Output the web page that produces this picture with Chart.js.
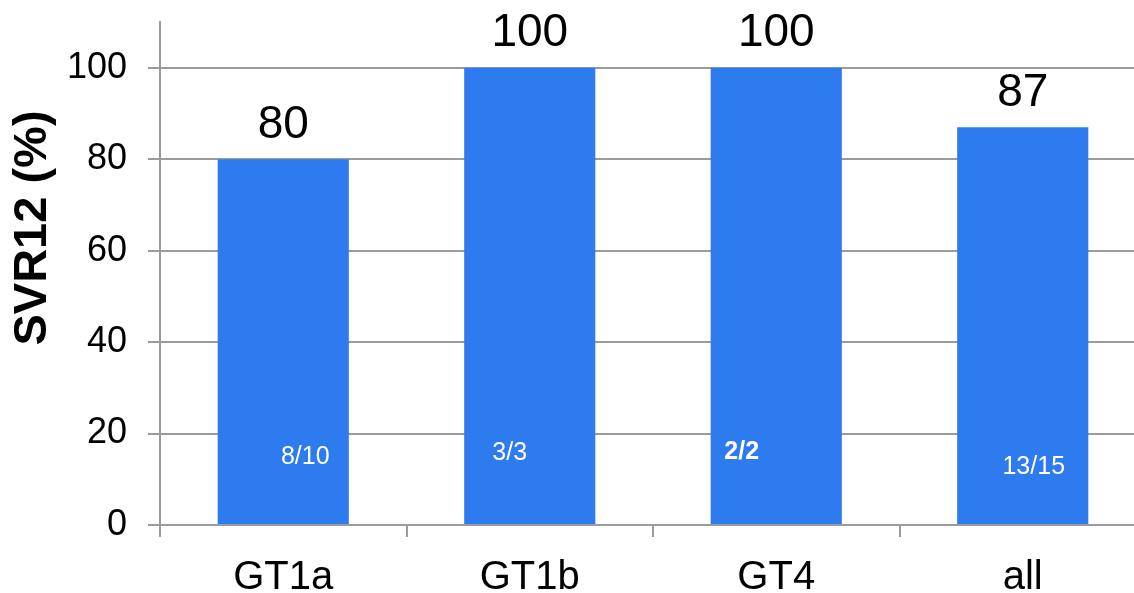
<!DOCTYPE html>
<html>
<head>
<meta charset="utf-8">
<script src="https://cdn.jsdelivr.net/npm/chart.js@4/dist/chart.umd.min.js"></script>
<style>
  html, body { margin: 0; padding: 0; background: #fff; overflow: hidden; }
  /* plot runs slightly past the right edge of the page */
  #wrap { width: 1146px; height: 593px; position: relative; }
</style>
</head>
<body>
<div id="wrap"><canvas id="c"></canvas></div>
<script>
// Genotype groups and SVR12 rates
const categories = ['GT1a', 'GT1b', 'GT4', 'all'];
const svr12 = [80, 100, 100, 87];
const responders = ['8/10', '3/3', '2/2', '13/15'];
const yTicks = [0, 20, 40, 60, 80, 100];

const FONT = "'Liberation Sans', Arial, Helvetica, sans-serif";
const BAR_COLOR = '#2e7bef';
const AXIS_GRAY = '#9b9b9b';

// small per-bar nudges for the responder count text (dx, px above the baseline, bold)
const countLabelNudge = [
  { dx: 22, up: 68, bold: false },
  { dx: -20, up: 72, bold: false },
  { dx: -34.5, up: 73, bold: true },
  { dx: 11, up: 58, bold: false }
];

const barLabels = {
  id: 'barLabels',
  afterDatasetsDraw(chart) {
    const ctx = chart.ctx;
    const meta = chart.getDatasetMeta(0);
    const yBase = chart.scales.y.getPixelForValue(0);
    ctx.save();
    meta.data.forEach((bar, i) => {
      // value above each bar
      ctx.fillStyle = '#000';
      ctx.font = `46px ${FONT}`;
      ctx.textAlign = 'center';
      ctx.textBaseline = 'alphabetic';
      ctx.fillText(String(svr12[i]), bar.x, bar.y - 21.5);
      // responder counts inside the bar
      const n = countLabelNudge[i];
      ctx.fillStyle = '#fff';
      ctx.font = `${n.bold ? 'bold ' : ''}25px ${FONT}`;
      ctx.textBaseline = 'middle';
      ctx.fillText(responders[i], bar.x + n.dx, yBase - n.up);
    });
    ctx.restore();
  }
};

const yTitle = {
  id: 'yTitle',
  afterDraw(chart) {
    const ctx = chart.ctx;
    ctx.save();
    ctx.translate(33, 228);
    ctx.rotate(-Math.PI / 2);
    ctx.fillStyle = '#000';
    ctx.font = `bold 47px ${FONT}`;
    ctx.textAlign = 'center';
    ctx.textBaseline = 'middle';
    ctx.fillText('SVR12 (%)', 0, 0);
    ctx.restore();
  }
};

new Chart(document.getElementById('c'), {
  type: 'bar',
  data: {
    labels: categories,
    datasets: [{
      data: svr12,
      backgroundColor: BAR_COLOR,
      borderWidth: 0,
      barPercentage: 0.532,
      categoryPercentage: 1.0
    }]
  },
  options: {
    responsive: true,
    maintainAspectRatio: false,
    animation: false,
    layout: { padding: { top: 22, right: 0, bottom: 0, left: 0 } },
    plugins: {
      legend: { display: false },
      tooltip: { enabled: false }
    },
    scales: {
      x: {
        offset: true,
        afterFit(s) { s.height = 68; s.paddingLeft = 0; s.paddingRight = 0; },
        grid: {
          offset: true,
          drawOnChartArea: false,
          drawTicks: true,
          tickLength: 12,
          color: AXIS_GRAY,
          lineWidth: 2
        },
        border: { display: true, color: AXIS_GRAY, width: 2 },
        ticks: {
          color: '#000',
          font: { family: FONT, size: 40 },
          padding: 17,
          maxRotation: 0
        }
      },
      y: {
        min: 0,
        max: 110,
        afterFit(s) { s.width = 160; s.paddingTop = 0; s.paddingBottom = 0; },
        afterBuildTicks(s) { s.ticks = yTicks.map(v => ({ value: v })); },
        grid: {
          color: AXIS_GRAY,
          lineWidth: 2,
          drawTicks: true,
          tickLength: 12
        },
        border: { display: true, color: AXIS_GRAY, width: 2 },
        ticks: {
          color: '#000',
          font: { family: FONT, size: 36 },
          padding: 21
        }
      }
    }
  },
  plugins: [barLabels, yTitle]
});
</script>
</body>
</html>
